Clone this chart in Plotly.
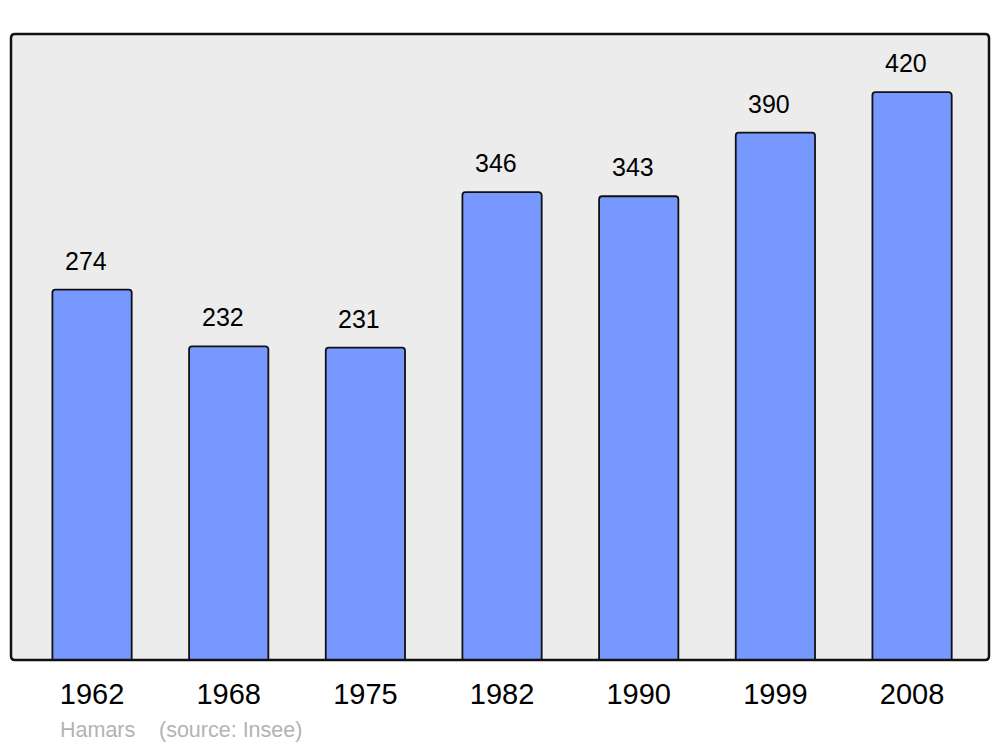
import plotly.graph_objects as go

years = ["1962", "1968", "1975", "1982", "1990", "1999", "2008"]
population = [274, 232, 231, 346, 343, 390, 420]
commune = "Hamars"
source = "(source: Insee)"

# page body has an 8px default margin, so the figure is offset by 8px
OFF = 8
W, H = 1000 - 2 * OFF, 747
ML, MR, MT = 11 - OFF, 1000 - 989 - OFF, 34 - OFF
MB = (H + OFF) - 660
pw, ph = W - ML - MR, H - MT - MB

FONT = "Liberation Sans, Arial, sans-serif"

fig = go.Figure()
fig.add_trace(go.Bar(
    x=years, y=population, width=0.58,
    marker=dict(color="#7799ff", line=dict(color="#111111", width=1.8), cornerradius=3),
    hoverinfo="x+y",
))

for i, v in enumerate(population):
    fig.add_annotation(x=i, y=v, text=str(v), showarrow=False, yanchor="bottom",
                       yshift=13, xshift=-6, font=dict(family=FONT, size=25, color="#000"))

foot_y = -(730 - 660) / ph
fig.add_annotation(xref="paper", yref="paper", x=(61 - 11) / pw, y=foot_y, xanchor="left", yanchor="middle",
                   text=commune, showarrow=False, xshift=-2, borderpad=0,
                   font=dict(family=FONT, size=21.5, color="#b3b3b3"))
fig.add_annotation(xref="paper", yref="paper", x=(160 - 11) / pw, y=foot_y, xanchor="left", yanchor="middle",
                   text=source, showarrow=False, xshift=-2, borderpad=0,
                   font=dict(family=FONT, size=21.5, color="#b3b3b3"))

rx, ry = 4 / pw, 4 / ph
path = (f"M {rx},0 L {1-rx},0 Q 1,0 1,{ry} L 1,{1-ry} Q 1,1 {1-rx},1 "
        f"L {rx},1 Q 0,1 0,{1-ry} L 0,{ry} Q 0,0 {rx},0 Z")
fig.add_shape(type="path", path=path, xref="paper", yref="paper",
              line=dict(color="#111111", width=2.5), layer="above")

fig.update_layout(
    width=W, height=H,
    margin=dict(l=ML, r=MR, t=MT, b=MB, pad=0),
    paper_bgcolor="#ffffff", plot_bgcolor="#ececec",
    showlegend=False,
    font=dict(family=FONT),
    xaxis=dict(type="category", range=[-0.593, 6.563], showgrid=False, zeroline=False,
               showline=False, ticks="", ticklabelstandoff=14,
               tickfont=dict(size=29, color="#000")),
    yaxis=dict(range=[0, 463], showgrid=False, zeroline=False, showline=False,
               showticklabels=False, ticks=""),
)

fig.write_html("out.html")
